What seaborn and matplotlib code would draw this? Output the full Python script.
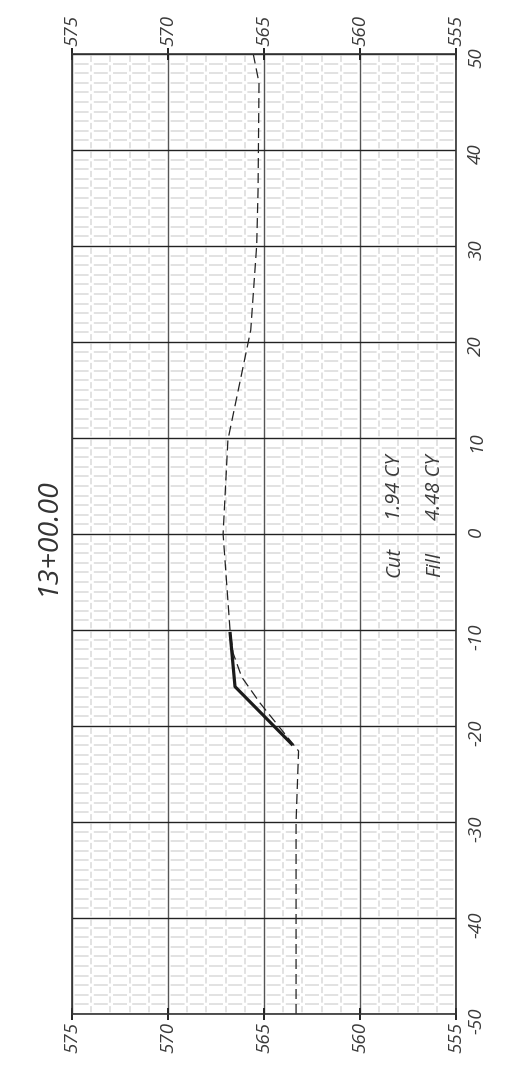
import matplotlib
matplotlib.use("Agg")
import matplotlib.pyplot as plt
from matplotlib.ticker import MultipleLocator, FixedLocator
import seaborn as sns

# ---- data -------------------------------------------------------------
ground_offset = [-50, -30, -22.6, -17.6, -14.9, -12.4, -10, 0, 9.8, 21.25, 30.1, 35.8, 47, 50]
ground_elev = [563.33, 563.33, 563.2, 565.21, 566.16, 566.61, 566.77, 567.13, 566.88,
               565.69, 565.38, 565.31, 565.26, 565.56]

design_offset = [-10.2, -15.9, -22.0]
design_elev = [566.77, 566.51, 563.5]

elev_ticks = [575, 570, 565, 560, 555]
offset_ticks = [-50, -40, -30, -20, -10, 0, 10, 20, 30, 40, 50]

station_label = "13+00.00"
cut_label, cut_value = "Cut", "1.94 CY"
fill_label, fill_value = "Fill", "4.48 CY"

# ---- style ------------------------------------------------------------
sns.set_style("white")
plt.rcParams["font.family"] = ["Open Sans", "DejaVu Sans"]
plt.rcParams["axes.unicode_minus"] = False
plt.rcParams["lines.scale_dashes"] = False

fig = plt.figure(figsize=(5.07, 10.68), dpi=100)
ax = fig.add_axes([72 / 507, 54 / 1068, 384 / 507, 960 / 1068])

ax.set_xlim(575, 555)
ax.set_ylim(-50, 50)

ax.xaxis.set_major_locator(FixedLocator(elev_ticks))
ax.yaxis.set_major_locator(FixedLocator(offset_ticks))
ax.xaxis.set_minor_locator(MultipleLocator(1))
ax.yaxis.set_minor_locator(MultipleLocator(1))

# dash patterns in points (1px = 0.72pt at 100 dpi), period == grid spacing
pt = 72 / 100
v_on, v_off = 6.2 * pt, 3.4 * pt      # along offset, period 9.6px
h_on, h_off = 14.0 * pt, 5.2 * pt     # along elevation, period 19.2px
ax.xaxis.grid(True, which="minor", color="#dadada", lw=1.1,
              linestyle=(v_on + v_off / 2, (v_on, v_off)))
ax.yaxis.grid(True, which="minor", color="#dadada", lw=1.1,
              linestyle=(h_on + h_off / 2, (h_on, h_off)))
ax.xaxis.grid(True, which="major", color="#555555", lw=1.0, linestyle="-")
ax.yaxis.grid(True, which="major", color="#222222", lw=1.0, linestyle="-")
ax.set_axisbelow(True)

# lines
sns.lineplot(x=ground_elev, y=ground_offset, sort=False, estimator=None, ax=ax,
             color="#222222", lw=0.9, linestyle=(0, (7.2, 3.6)))
sns.lineplot(x=design_elev, y=design_offset, sort=False, estimator=None, ax=ax,
             color="#1a1a1a", lw=2.3, solid_capstyle="butt")

for s in ax.spines.values():
    s.set_color("#333333")
    s.set_linewidth(1.2)
    s.set_visible(True)

ax.tick_params(axis="x", which="major", top=True, bottom=True, labeltop=True,
               labelbottom=True, direction="inout", length=9, width=1.4,
               color="#222222", labelrotation=90, pad=1.5, labelsize=13.5,
               labelcolor="#3a3a3a")
ax.tick_params(axis="x", which="minor", top=False, bottom=False, length=0)
ax.tick_params(axis="y", which="both", left=False, right=False, labelleft=False,
               labelright=True, length=0, labelrotation=90, pad=8, labelsize=13.5,
               labelcolor="#3a3a3a")
ax.set_xticklabels([str(v) for v in elev_ticks])
ax.set_yticklabels([str(v) for v in offset_ticks])
for t in ax.xaxis.get_major_ticks() + ax.yaxis.get_major_ticks():
    for lab in (t.label1, t.label2):
        lab.set_fontstyle("italic")
        lab.set_fontweight("normal")

ax.set_xlabel("")
ax.set_ylabel("")

label_font = dict(family=["Open Sans", "DejaVu Sans"], style="italic", weight="normal")
ax.text(-0.0625, 0.498, station_label, transform=ax.transAxes, rotation=90,
        ha="center", va="center", fontsize=20.5, color="#333333", clip_on=False,
        **label_font)
for xe, lab, val in [(558.18, cut_label, cut_value), (556.1, fill_label, fill_value)]:
    ax.text(xe, -4.5, lab, rotation=90, rotation_mode="anchor", ha="left",
            va="center", fontsize=14.5, color="#3a3a3a", **label_font)
    ax.text(xe, 1.46, val, rotation=90, rotation_mode="anchor", ha="left",
            va="center", fontsize=14.5, color="#3a3a3a", **label_font)

fig.savefig("out.png", dpi=100)
